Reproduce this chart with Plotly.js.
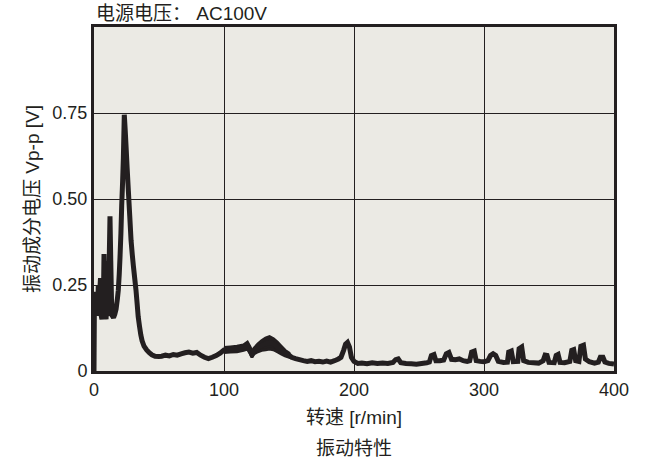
<!DOCTYPE html>
<html>
<head>
<meta charset="utf-8">
<script src="https://cdn.plot.ly/plotly-3.0.1.min.js"></script>
<style>html,body{margin:0;padding:0;background:#fff;}#chart{width:646px;height:467px;}</style>
</head>
<body>
<div id="chart"></div>
<script>
// Rotation speed [r/min]
const speed = [
  0, 0.3, 0.8, 1.3, 1.8, 2.3, 2.8, 3.3, 3.8, 4.4, 5.0, 5.6, 6.1, 6.6, 7.1, 7.7, 8.3, 8.8, 9.3, 9.8,
  10.4, 11.0, 11.6, 12.3, 12.9, 13.5, 14.2, 15.0, 16.0, 17.0, 18.0, 18.7, 19.4, 20.0, 20.7, 21.3, 22.0, 22.6, 23.3, 24.0,
  24.7, 25.5, 26.4, 27.5, 28.5, 29.4, 30.3, 31.3, 32.3, 33.2, 34.0, 35.0, 36.0, 37.0, 38.5, 40.5, 42.5, 44.5, 47,
  50, 52, 55, 58, 61, 64, 67, 70, 73, 76, 79, 82, 85, 88, 91, 94, 97,
  100, 105, 110, 115, 118, 120, 121.5, 123, 126, 129, 132, 135, 138, 141, 144, 147,
  150, 152, 155, 158, 161, 164, 167, 170, 173, 176, 179, 182, 185, 188,
  190, 192, 193.5, 195, 196.5, 198, 200, 203, 206, 210, 214, 218, 222, 226, 230, 232, 234, 236, 240, 244, 248,
  252, 256, 258, 259.5, 261.5, 263, 266, 269, 271, 273, 275, 278, 281, 284, 287, 289, 290.5, 292.5, 294, 297, 300,
  303, 305, 307, 309, 311, 315, 318, 319, 321, 322.5, 326, 327, 329, 330.5, 334, 338, 342, 345.5, 347, 348.5, 350,
  354, 355.5, 357, 358.5, 362, 366, 367.5, 369, 370.5, 373, 374.5, 376.5, 378, 381, 385, 388, 389.5, 391.5, 393, 396, 400
];
// Vibration component voltage Vp-p [V]
const voltage = [
  0, 0.19, 0.2, 0.23, 0.18, 0.21, 0.16, 0.25, 0.17, 0.23, 0.27, 0.16, 0.15, 0.24, 0.17, 0.34, 0.16, 0.28, 0.15, 0.32,
  0.17, 0.16, 0.3, 0.45, 0.32, 0.2, 0.16, 0.155, 0.165, 0.18, 0.21, 0.235, 0.28, 0.33, 0.40, 0.48, 0.55, 0.62, 0.745, 0.7,
  0.65, 0.59, 0.526, 0.45, 0.38, 0.34, 0.305, 0.27, 0.235, 0.195, 0.158, 0.13, 0.105, 0.088, 0.072, 0.061, 0.053, 0.047, 0.043,
  0.042, 0.043, 0.046, 0.044, 0.048, 0.046, 0.05, 0.053, 0.055, 0.052, 0.054, 0.046, 0.04, 0.036, 0.04, 0.045, 0.052,
  0.061, 0.062, 0.064, 0.068, 0.074, 0.061, 0.047, 0.058, 0.067, 0.074, 0.079, 0.083, 0.079, 0.07, 0.061, 0.052,
  0.046, 0.04, 0.036, 0.033, 0.03, 0.028, 0.03, 0.027, 0.028, 0.026, 0.029, 0.026, 0.03, 0.035,
  0.04, 0.06, 0.078, 0.083, 0.07, 0.04, 0.028, 0.022, 0.023, 0.021, 0.024, 0.022, 0.023, 0.022, 0.025, 0.033, 0.035, 0.024, 0.022, 0.021, 0.02,
  0.022, 0.024, 0.026, 0.045, 0.048, 0.03, 0.03, 0.032, 0.05, 0.054, 0.034, 0.033, 0.035, 0.03, 0.028, 0.03, 0.055, 0.058, 0.03, 0.028, 0.027,
  0.03, 0.045, 0.05, 0.045, 0.028, 0.025, 0.026, 0.055, 0.058, 0.027, 0.028, 0.065, 0.07, 0.03, 0.025, 0.024, 0.023, 0.03, 0.046, 0.045, 0.025,
  0.024, 0.045, 0.048, 0.025, 0.024, 0.028, 0.06, 0.062, 0.03, 0.028, 0.072, 0.075, 0.035, 0.027, 0.023, 0.026, 0.04, 0.04, 0.026, 0.022, 0.02
];
// Noise band (upper / lower envelope) of the trace between 100 and 150 r/min
const bandSpeed = [100, 105, 110, 115, 118, 120, 121.5, 123, 126, 129, 132, 135, 138, 141, 144, 147, 150];
const bandUpper = [0.068, 0.07, 0.072, 0.076, 0.084, 0.07, 0.055, 0.066, 0.078, 0.088, 0.096, 0.1, 0.094, 0.084, 0.072, 0.06, 0.052];
const bandLower = [0.054, 0.055, 0.056, 0.06, 0.064, 0.052, 0.04, 0.05, 0.056, 0.06, 0.062, 0.064, 0.062, 0.056, 0.05, 0.044, 0.04];

const yTickVals = [0, 0.25, 0.5, 0.75];
const yTickText = ['0', '0.25', '0.50', '0.75'];
const xTickVals = [0, 100, 200, 300, 400];
const xTickText = ['0', '100', '200', '300', '400'];

const ink = '#231f20';
const fam = 'Liberation Sans, Noto Sans CJK SC, sans-serif';

const trace = {
  x: speed, y: voltage, type: 'scatter', mode: 'lines',
  line: {color: ink, width: 5, shape: 'linear', simplify: false},
  hoverinfo: 'skip'
};
const band = {
  x: bandSpeed.concat(bandSpeed.slice().reverse()),
  y: bandUpper.concat(bandLower.slice().reverse()),
  type: 'scatter', mode: 'lines', fill: 'toself', fillcolor: ink,
  line: {color: ink, width: 3, simplify: false},
  hoverinfo: 'skip'
};

const layout = {
  width: 646, height: 467,
  margin: {l: 94, r: 32, t: 27, b: 96},
  paper_bgcolor: '#ffffff',
  plot_bgcolor: '#ebeae4',
  showlegend: false,
  font: {family: fam, color: ink, size: 18},
  title: {
    text: '电源电压： AC100V', x: 96/646, xanchor: 'left', xref: 'container',
    y: 1 - 13/467, yanchor: 'middle', yref: 'container',
    font: {family: fam, size: 19, color: ink}
  },
  xaxis: {
    range: [0, 400], tickvals: xTickVals, ticktext: xTickText,
    showgrid: true, gridcolor: ink, gridwidth: 1,
    showline: true, linecolor: ink, linewidth: 3, mirror: true,
    zeroline: false, ticks: '',
    tickfont: {family: fam, size: 18, color: ink},
    title: {text: '转速 [r/min]', font: {family: fam, size: 19, color: ink}, standoff: 13}
  },
  yaxis: {
    range: [0, 1], tickvals: yTickVals, ticktext: yTickText,
    showgrid: true, gridcolor: ink, gridwidth: 1,
    showline: true, linecolor: ink, linewidth: 3, mirror: true,
    zeroline: false, ticks: '',
    tickfont: {family: fam, size: 18, color: ink},
    title: {text: '振动成分电压 Vp-p [V]', font: {family: fam, size: 19, color: ink}, standoff: 8}
  },
  annotations: [{
    text: '振动特性', xref: 'paper', yref: 'paper',
    x: 0.5, y: -77/344, xanchor: 'center', yanchor: 'middle',
    showarrow: false, font: {family: fam, size: 19, color: ink}
  }]
};

Plotly.newPlot('chart', [band, trace], layout, {displayModeBar: false, staticPlot: true});
</script>
</body>
</html>
